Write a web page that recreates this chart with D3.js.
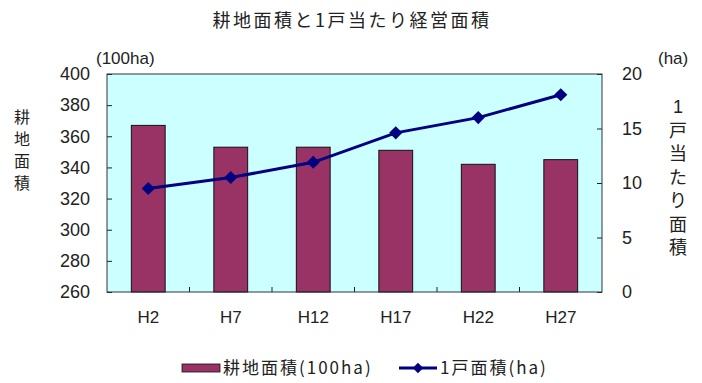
<!DOCTYPE html>
<html>
<head>
<meta charset="utf-8">
<script src="https://cdn.jsdelivr.net/npm/d3@7"></script>
<style>
  html, body { margin: 0; padding: 0; background: #ffffff; }
  svg { display: block; }
  text { fill: #222; }
</style>
</head>
<body>
<svg id="chart" width="702" height="383"></svg>
<script>
// 年次（平成）
const categories = ["H2", "H7", "H12", "H17", "H22", "H27"];
// 耕地面積（100ha）
const farmlandArea = [367, 353, 353, 351, 342, 345];
// 1戸当たり経営面積（ha）
const areaPerFarm = [9.5, 10.5, 11.9, 14.6, 16.0, 18.1];
// 軸目盛
const leftTicks = [260, 280, 300, 320, 340, 360, 380, 400];
const rightTicks = [0, 5, 10, 15, 20];

const svg = d3.select("#chart");
const plot = { left: 107, right: 602, top: 74, bottom: 292 };
const numFont = "'Liberation Sans', Arial, sans-serif";
const jpFont = "'Noto Sans CJK JP', sans-serif";

const x = d3.scaleBand().domain(categories).range([plot.left, plot.right]).padding(0);
const yL = d3.scaleLinear().domain([260, 400]).range([plot.bottom, plot.top]);
const yR = d3.scaleLinear().domain([0, 20]).range([plot.bottom, plot.top]);

// 描画領域の背景
svg.append("rect")
  .attr("x", plot.left).attr("y", plot.top)
  .attr("width", plot.right - plot.left).attr("height", plot.bottom - plot.top)
  .attr("fill", "#ccffff");

// 棒：耕地面積
const barW = x.bandwidth() * 0.41;
svg.append("g").selectAll("rect").data(categories).join("rect")
  .attr("x", (d) => x(d) + (x.bandwidth() - barW) / 2)
  .attr("y", (d, i) => yL(farmlandArea[i]))
  .attr("width", barW)
  .attr("height", (d, i) => yL(260) - yL(farmlandArea[i]))
  .attr("fill", "#993366")
  .attr("stroke", "#111")
  .attr("stroke-width", 1);

// 左軸
const gL = svg.append("g").attr("transform", `translate(${plot.left},0)`)
  .call(d3.axisLeft(yL).tickValues(leftTicks).tickSize(-5).tickPadding(17));
// 右軸
const gR = svg.append("g").attr("transform", `translate(${plot.right},0)`)
  .call(d3.axisRight(yR).tickValues(rightTicks).tickSize(-5).tickPadding(20));
// 下軸（区切り目盛）
const gB = svg.append("g").attr("transform", `translate(0,${plot.bottom})`)
  .call(d3.axisBottom(x).tickSize(0).tickPadding(19));

[gL, gR, gB].forEach((g) => {
  g.select(".domain").remove();
  g.selectAll(".tick line").attr("stroke", "#222");
  g.selectAll("text").attr("font-family", numFont).attr("font-size", 18).attr("fill", "#2a2a2a");
});
gB.selectAll("text").attr("font-size", 17);

// 区切り目盛（項目の境界）
svg.append("g").selectAll("line").data(categories.slice(1)).join("line")
  .attr("x1", (d) => x(d)).attr("x2", (d) => x(d))
  .attr("y1", plot.bottom).attr("y2", plot.bottom - 5)
  .attr("stroke", "#222");

// 描画領域の枠線
svg.append("rect")
  .attr("x", plot.left).attr("y", plot.top)
  .attr("width", plot.right - plot.left).attr("height", plot.bottom - plot.top)
  .attr("fill", "none").attr("stroke", "#333").attr("stroke-width", 1);

// 折れ線：1戸当たり経営面積
const line = d3.line()
  .x((d, i) => x(categories[i]) + x.bandwidth() / 2)
  .y((d) => yR(d));
svg.append("path").datum(areaPerFarm)
  .attr("d", line).attr("fill", "none")
  .attr("stroke", "#000080").attr("stroke-width", 3);

const diamond = d3.symbol().type(d3.symbolDiamond2).size(110);
svg.append("g").selectAll("path").data(areaPerFarm).join("path")
  .attr("d", diamond)
  .attr("transform", (d, i) => `translate(${x(categories[i]) + x.bandwidth() / 2},${yR(d)})`)
  .attr("fill", "#000080");

// タイトル
svg.append("text")
  .attr("x", 352).attr("y", 27)
  .attr("text-anchor", "middle")
  .attr("font-family", jpFont).attr("font-size", 18)
  .attr("letter-spacing", 2.5)
  .text("耕地面積と1戸当たり経営面積");

// 単位
svg.append("text").attr("x", 96).attr("y", 64)
  .attr("font-family", numFont).attr("font-size", 17)
  .text("(100ha)");
svg.append("text").attr("x", 658).attr("y", 64)
  .attr("font-family", numFont).attr("font-size", 17)
  .text("(ha)");

// 縦書きの軸タイトル
const leftTitle = "耕地面積".split("");
svg.append("g").selectAll("text").data(leftTitle).join("text")
  .attr("x", 22).attr("y", (d, i) => 123 + i * 22)
  .attr("text-anchor", "middle")
  .attr("font-family", jpFont).attr("font-size", 16)
  .text((d) => d);

const rightTitle = ["1", "戸", "当", "た", "り", "面", "積"];
svg.append("g").selectAll("text").data(rightTitle).join("text")
  .attr("x", 678).attr("y", (d, i) => 113 + i * 23.5)
  .attr("text-anchor", "middle")
  .attr("font-family", (d) => d === "1" ? numFont : jpFont)
  .attr("font-size", 18)
  .text((d) => d);

// 凡例
const legY = 368;
const legend = svg.append("g");
legend.append("rect")
  .attr("x", 182).attr("y", legY - 4).attr("width", 38).attr("height", 8)
  .attr("fill", "#993366").attr("stroke", "#111").attr("stroke-width", 0.8);
legend.append("text")
  .attr("x", 223).attr("y", legY + 6)
  .attr("font-family", jpFont).attr("font-size", 17)
  .attr("letter-spacing", 2)
  .text("耕地面積(100ha)");
legend.append("line")
  .attr("x1", 399).attr("x2", 437).attr("y1", legY).attr("y2", legY)
  .attr("stroke", "#000080").attr("stroke-width", 3);
legend.append("path")
  .attr("d", d3.symbol().type(d3.symbolDiamond2).size(70))
  .attr("transform", `translate(418,${legY})`)
  .attr("fill", "#000080");
legend.append("text")
  .attr("x", 440).attr("y", legY + 6)
  .attr("font-family", jpFont).attr("font-size", 17)
  .attr("letter-spacing", 2)
  .text("1戸面積(ha)");
</script>
</body>
</html>
